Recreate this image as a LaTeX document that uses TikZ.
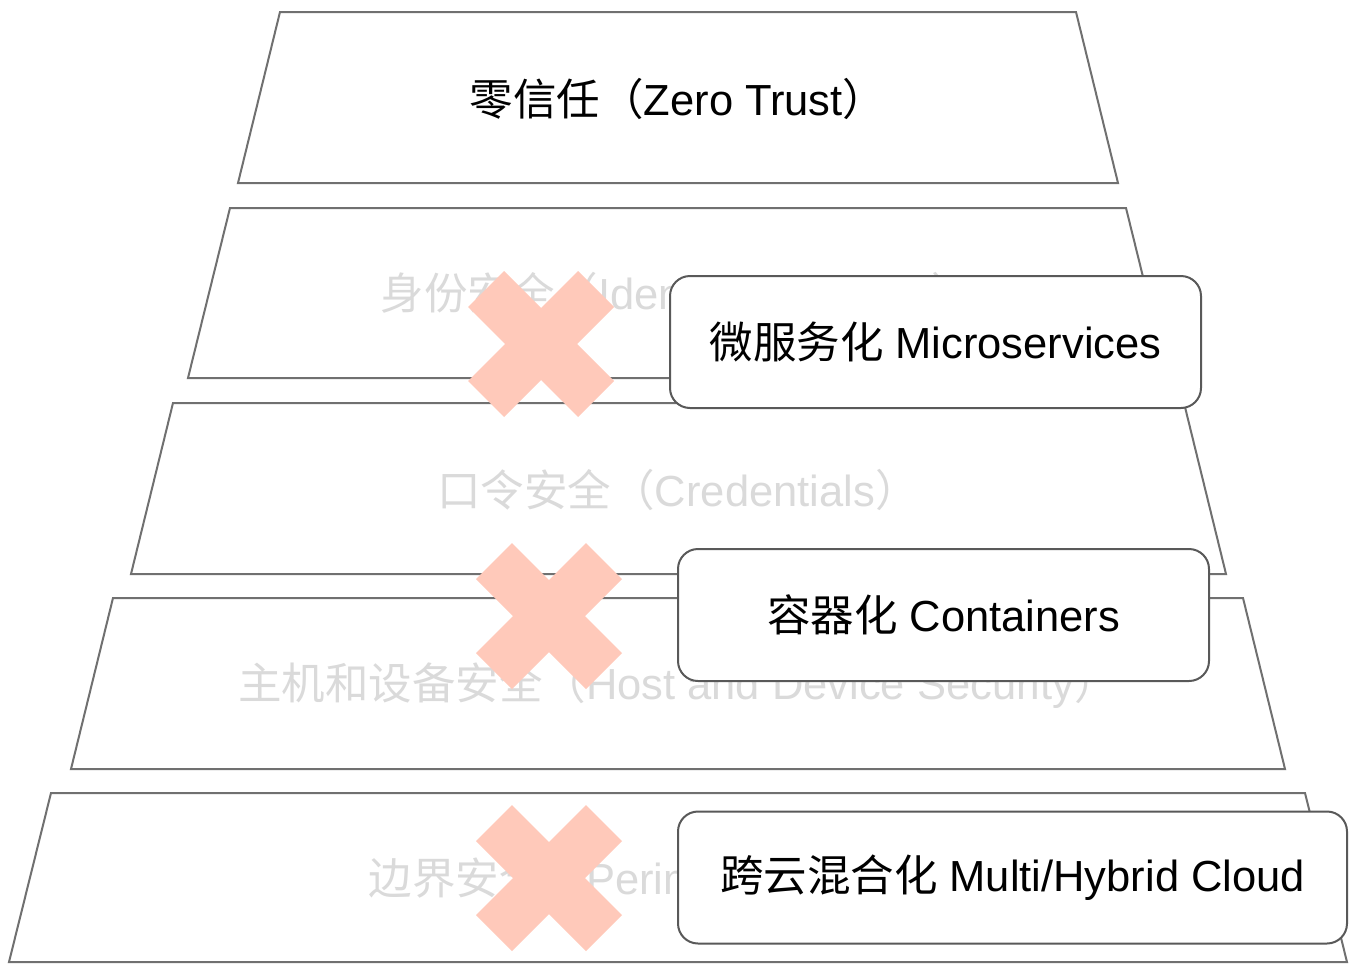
\documentclass[tikz,border=0pt]{standalone}
\usepackage{fontspec}
\setmainfont{Liberation Sans}
\newfontfamily\cjk{Noto Sans CJK SC}
\definecolor{edgegray}{HTML}{707070}
\definecolor{faint}{HTML}{DADADA}
\definecolor{crossfill}{HTML}{FFC9BA}
\definecolor{cardedge}{HTML}{595959}
\tikzset{
  layer/.style={draw=edgegray, line width=2pt, fill=white, line join=miter},
  biglabel/.style={inner sep=0pt, font=\fontsize{43.5}{50}\selectfont},
  faintlabel/.style={biglabel, text=faint},
  card/.style={draw=cardedge, line width=2pt, fill=white, rounded corners=20pt,
    minimum height=132pt, inner sep=0pt, font=\fontsize{43.5}{50}\selectfont},
  xcross/.pic={
    \fill[crossfill] (-73,-37) -- (-37,-73) -- (0,-36) -- (37,-73) -- (73,-37)
      -- (36,0) -- (73,37) -- (37,73) -- (0,36) -- (-37,73) -- (-73,37) -- (-36,0) -- cycle;
  }
}
\begin{document}
\begin{tikzpicture}[x=1pt,y=-1pt]
\useasboundingbox (0,0) rectangle (1354,964);
% layers
\draw[layer] (280,12) -- (1076,12) -- (1118,183) -- (238,183) -- cycle;
\draw[layer] (230,208) -- (1126,208) -- (1168,378) -- (188,378) -- cycle;
\draw[layer] (173,403) -- (1184,403) -- (1226,574) -- (131,574) -- cycle;
\draw[layer] (113,598) -- (1243,598) -- (1285,769) -- (71,769) -- cycle;
\draw[layer] (51,793) -- (1305,793) -- (1347,962) -- (9,962) -- cycle;
% labels
\node[biglabel] (zt) at (678,99) {{\cjk 零信任（}Zero Trust{\cjk ）}};
\node[faintlabel] (id) at (678,295) {{\cjk 身份安全（}Identity \& Access{\cjk ）}};
\node[faintlabel] (cr) at (678,490) {{\cjk 口令安全（}Credentials{\cjk ）}};
\node[faintlabel] (hd) at (678,685) {{\cjk 主机和设备安全（}Host and Device Security{\cjk ）}};
\node[faintlabel] (pe) at (678,880) {{\cjk 边界安全（}Perimeter Security{\cjk ）}};
% crosses
\pic (x1) at (541,344) {xcross};
\pic (x2) at (549,616) {xcross};
\pic (x3) at (549,878) {xcross};
% cards
\node[card, minimum width=531pt] (ms) at (935.5,342) {{\cjk 微服务化} Microservices};
\node[card, minimum width=531pt] (ct) at (943.5,615) {{\cjk 容器化} Containers};
\node[card, minimum width=669pt] (mc) at (1012.5,877.5) {{\cjk 跨云混合化} Multi/Hybrid Cloud};
\end{tikzpicture}
\end{document}
